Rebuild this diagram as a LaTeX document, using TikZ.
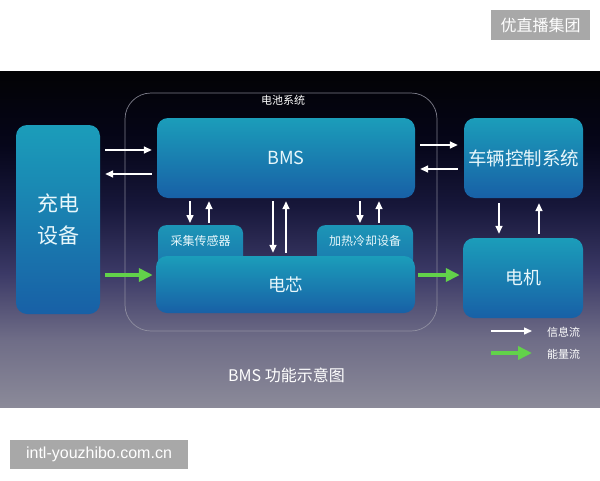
\documentclass[tikz,border=0pt]{standalone}
\usepackage{fontspec}
\setmainfont{Noto Sans CJK SC}
\newfontfamily\latinsans{Liberation Sans}
\usetikzlibrary{arrows.meta}
\definecolor{boxtop}{HTML}{1B9DBA}
\definecolor{boxbot}{HTML}{1860A6}
\definecolor{subtop}{HTML}{1C95B6}
\definecolor{subbot}{HTML}{1A78AE}
\definecolor{txt}{HTML}{E8F7FB}
\definecolor{grn}{HTML}{62D24A}
\definecolor{wm}{HTML}{A8A8A8}
\definecolor{sysline}{HTML}{9A9AA8}
\definecolor{bga}{HTML}{8B8A99}
\definecolor{bgb}{HTML}{6F6D87}
\definecolor{bgc}{HTML}{3B3966}
\definecolor{bgd}{HTML}{17173A}
\definecolor{bge}{HTML}{06061A}
\definecolor{bgf}{HTML}{020204}
\pgfdeclareverticalshading{panelshade}{100bp}{color(0bp)=(bga); color(25bp)=(bga); color(35bp)=(bgb); color(45bp)=(bgc); color(55bp)=(bgd); color(64bp)=(bge); color(75bp)=(bgf); color(100bp)=(bgf)}
\tikzset{
  x=1pt, y=-1pt,
  mainbox/.style={rounded corners=11pt, top color=boxtop, bottom color=boxbot, text=txt, inner sep=0pt},
  subbox/.style={rounded corners=8pt, top color=subtop, bottom color=subbot, text=txt, inner xsep=0pt, inner ysep=0pt, font=\fontsize{12}{14}\selectfont, text height=20.5pt, text depth=22pt},
  sysbox/.style={draw=sysline, line width=0.7pt, rounded corners=26pt, opacity=0.8},
  info/.style={draw=white, line width=1.5pt, -{Triangle[length=8pt,width=7pt]}},
  energy/.style={draw=grn, line width=4.8pt, -{Triangle[length=14pt,width=13pt]}},
  wmbox/.style={fill=wm, text=white, inner sep=0pt},
}
\begin{document}
\begin{tikzpicture}
\fill[white] (0,0) rectangle (600,480);
\useasboundingbox (0,0) rectangle (600,480);
% dark panel
\shade[shading=panelshade] (0,71) rectangle (600,407);
% watermarks
\node[wmbox, minimum width=99pt, minimum height=30pt, font=\fontsize{16}{18}\selectfont] (wm1) at (540.5,25) {优直播集团};
\node[wmbox, minimum width=178pt, minimum height=29pt, font=\latinsans\fontsize{16}{18}\selectfont] (wm2) at (99,454.5) {intl-youzhibo.com.cn};
% battery system frame
\node[sysbox, minimum width=312pt, minimum height=238pt] (sys) at (281,212) {};
\node[text=white, font=\fontsize{11}{13}\selectfont, inner sep=0pt] (syslabel) at (283,100) {电池系统};
% boxes
\node[mainbox, minimum width=84pt, minimum height=189pt, align=center, font=\fontsize{21}{32}\selectfont] (chg) at (58,219.5) {充电\\设备};
\node[mainbox, minimum width=258pt, minimum height=80pt, font=\fontsize{18}{20}\selectfont] (bms) at (286,158) {BMS};
\node[mainbox, minimum width=119pt, minimum height=80pt, font=\fontsize{18.5}{20}\selectfont] (vcu) at (523.5,158) {车辆控制系统};
\node[subbox, anchor=north, minimum width=85pt] (sensor) at (200.5,225) {采集传感器};
\node[subbox, anchor=north, minimum width=96pt] (heat) at (365,225) {加热冷却设备};
\node[mainbox, minimum width=259pt, minimum height=57pt, font=\fontsize{17.5}{20}\selectfont] (cell) at (285.5,284.5) {电芯};
\node[mainbox, minimum width=120pt, minimum height=80pt, font=\fontsize{18}{20}\selectfont] (motor) at (523,278) {电机};
% title
\node[text=white, font=\fontsize{16}{18}\selectfont, inner sep=0pt] (title) at (286.5,375) {BMS 功能示意图};
% coordinates for connectors
\coordinate (c1) at ([yshift=8pt]bms.west);
\coordinate (c2) at ([yshift=-16pt]bms.west);
\coordinate (v1) at ([yshift=13pt]vcu.west);
\coordinate (v2) at ([yshift=-11pt]vcu.west);
\coordinate (s1) at ([xshift=-10.5pt]sensor.north);
\coordinate (s2) at ([xshift=8.5pt]sensor.north);
\coordinate (h1) at ([xshift=-5pt]heat.north);
\coordinate (h2) at ([xshift=14pt]heat.north);
\coordinate (e1) at ([xshift=-12.5pt]cell.north);
\coordinate (e2) at ([xshift=0.5pt]cell.north);
\coordinate (m1) at ([xshift=-24pt]motor.north);
\coordinate (m2) at ([xshift=16pt]motor.north);
\coordinate (g1) at ([yshift=9.5pt]cell.west);
\coordinate (g2) at ([yshift=3pt]motor.west);
% info arrows
\draw[info, shorten <=5pt, shorten >=5pt] (chg.east |- c1) -- (c1);
\draw[info, shorten <=5pt, shorten >=5pt] (c2) -- (chg.east |- c2);
\draw[info, shorten <=5pt, shorten >=6pt] (bms.east |- v1) -- (v1);
\draw[info, shorten <=6pt, shorten >=5pt] (v2) -- (bms.east |- v2);
\draw[info, shorten <=3pt, shorten >=2pt] (bms.south -| s1) -- (s1);
\draw[info, shorten <=2pt, shorten >=3pt] (s2) -- (bms.south -| s2);
\draw[info, shorten <=3pt, shorten >=2pt] (bms.south -| h1) -- (h1);
\draw[info, shorten <=2pt, shorten >=3pt] (h2) -- (bms.south -| h2);
\draw[info, shorten <=3pt, shorten >=3pt] (bms.south -| e1) -- (e1);
\draw[info, shorten <=3pt, shorten >=3pt] (e2) -- (bms.south -| e2);
\draw[info, shorten <=5pt, shorten >=4pt] (vcu.south -| m1) -- (m1);
\draw[info, shorten <=4pt, shorten >=5pt] (m2) -- (vcu.south -| m2);
% energy arrows
\draw[energy, shorten <=5pt, shorten >=3pt] (chg.east |- g1) -- (g1);
\draw[energy, shorten <=3pt, shorten >=3pt] (cell.east |- g2) -- (g2);
% legend
\coordinate (la) at (491,331);
\coordinate (lb) at (532,331);
\coordinate (lc) at (491,353);
\coordinate (ld) at (532,353);
\draw[info] (la) -- (lb);
\draw[energy] (lc) -- (ld);
\node[text=white, font=\fontsize{11}{13}\selectfont, inner sep=0pt, anchor=west] (leg1) at (547,332) {信息流};
\node[text=white, font=\fontsize{11}{13}\selectfont, inner sep=0pt, anchor=west] (leg2) at (547,354) {能量流};
\end{tikzpicture}
\end{document}
